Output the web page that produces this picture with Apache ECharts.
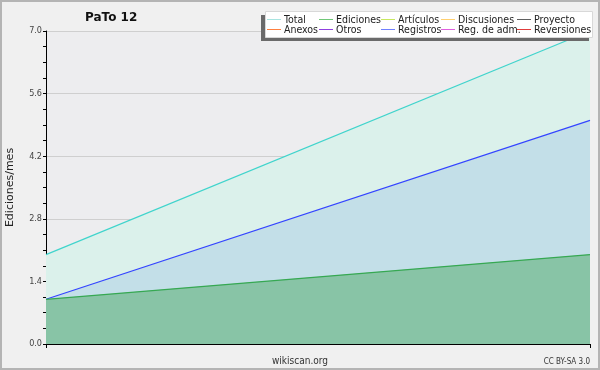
<!DOCTYPE html>
<html>
<head>
<meta charset="utf-8">
<script src="https://cdn.jsdelivr.net/npm/echarts@6/dist/echarts.min.js"></script>
<style>
html,body{margin:0;padding:0;background:#f0f0f0;}
#c{width:600px;height:370px;}
</style>
</head>
<body>
<div id="c"></div>
<script>
var categories = ['2023-01', '2023-02'];
var totalValues = [2.0, 7.0];
var blueValues = [1.0, 5.0];
var greenValues = [1.0, 2.0];
var legendNames = ['Total', 'Ediciones', 'Artículos', 'Discusiones', 'Proyecto',
                   'Anexos', 'Otros', 'Registros', 'Reg. de adm.', 'Reversiones'];
var legendColors = ['#a8e4e0', '#70c878', '#c8e860', '#ffd070', '#606060',
                    '#ff8040', '#9040e0', '#7080ff', '#e060e0', '#e03c3c'];

var chart = echarts.init(document.getElementById('c'), null, {renderer: 'canvas'});
var FONT = '"Liberation Sans Narrow", "DejaVu Sans Condensed", "Liberation Sans"';

var colX = [267, 319, 381, 441, 517];
var rowY = [19, 29];
var legendGraphics = [
  {type: 'rect', shape: {x: 1, y: 1, width: 598, height: 368}, style: {fill: 'none', stroke: '#b4b4b4', lineWidth: 2}, silent: true, z: 20},
  {type: 'rect', shape: {x: 261, y: 15, width: 328, height: 26}, style: {fill: '#6a6a6a'}, silent: true, z: 10},
  {type: 'rect', shape: {x: 265.5, y: 11.5, width: 327, height: 26}, style: {fill: '#ffffff', stroke: '#d8d8d8', lineWidth: 1}, silent: true, z: 11}
];
legendNames.forEach(function (n, i) {
  var col = i % 5, row = Math.floor(i / 5);
  legendGraphics.push({type: 'rect', shape: {x: colX[col], y: rowY[row], width: 14, height: 1},
    style: {fill: legendColors[i]}, silent: true, z: 12});
  legendGraphics.push({type: 'text', x: colX[col] + 17, y: rowY[row] + 1,
    style: {text: n, font: '10.5px ' + FONT, fill: '#222', textVerticalAlign: 'middle'}, silent: true, z: 12});
});

var option = {
  backgroundColor: '#f0f0f0',
  animation: false,
  title: {text: 'PaTo 12', left: 80, top: 7,
    textStyle: {fontFamily: 'DejaVu Sans', fontSize: 12, fontWeight: 'bold', color: '#111'}},
  grid: {left: 46, right: 10, top: 31, bottom: 26, show: true, backgroundColor: '#ededef', borderWidth: 0,
    outerBoundsMode: 'none', containLabel: false},
  xAxis: {
    type: 'category', data: categories, boundaryGap: false,
    axisLine: {lineStyle: {color: '#000', width: 1}},
    axisTick: {show: true, length: 4, lineStyle: {color: '#000'}},
    axisLabel: {show: false},
    splitLine: {show: false}
  },
  yAxis: {
    type: 'value', min: 0, max: 7, interval: 1.4,
    name: 'Ediciones/mes', nameLocation: 'middle', nameGap: 30, nameRotate: 90,
    nameTextStyle: {fontFamily: 'DejaVu Sans', fontSize: 11, color: '#222'},
    axisLine: {show: true, lineStyle: {color: '#000', width: 1}},
    axisTick: {show: true, length: 3, lineStyle: {color: '#000'}},
    minorTick: {show: true, splitNumber: 4, length: 3, lineStyle: {color: '#000'}},
    axisLabel: {fontFamily: FONT, fontSize: 9, color: '#444', margin: 4,
      formatter: function (v) { return v.toFixed(1); }},
    splitLine: {show: true, lineStyle: {color: '#cfcfcf', width: 1}}
  },
  series: [
    {name: 'Total', type: 'line', data: totalValues, symbol: 'none', z: 2,
      lineStyle: {color: '#40d4cc', width: 1.2}, itemStyle: {color: '#40d4cc'},
      areaStyle: {color: '#dbf1eb', opacity: 1}},
    {name: 'Ediciones', type: 'line', data: blueValues, symbol: 'none', z: 3,
      lineStyle: {color: '#3344ff', width: 1.2}, itemStyle: {color: '#3344ff'},
      areaStyle: {color: '#c3dfe8', opacity: 1}},
    {name: 'Artículos', type: 'line', data: greenValues, symbol: 'none', z: 4,
      lineStyle: {color: '#36a852', width: 1.2}, itemStyle: {color: '#36a852'},
      areaStyle: {color: '#88c4a6', opacity: 1}}
  ],
  graphic: legendGraphics.concat([
    {type: 'text', x: 300, y: 361, style: {text: 'wikiscan.org', font: '10px ' + FONT, fill: '#333', textAlign: 'center', textVerticalAlign: 'middle'}},
    {type: 'text', x: 590, y: 362, style: {text: 'CC BY-SA 3.0', font: '8px ' + FONT, fill: '#333', textAlign: 'right', textVerticalAlign: 'middle'}}
  ])
};
chart.setOption(option);
</script>
</body>
</html>
